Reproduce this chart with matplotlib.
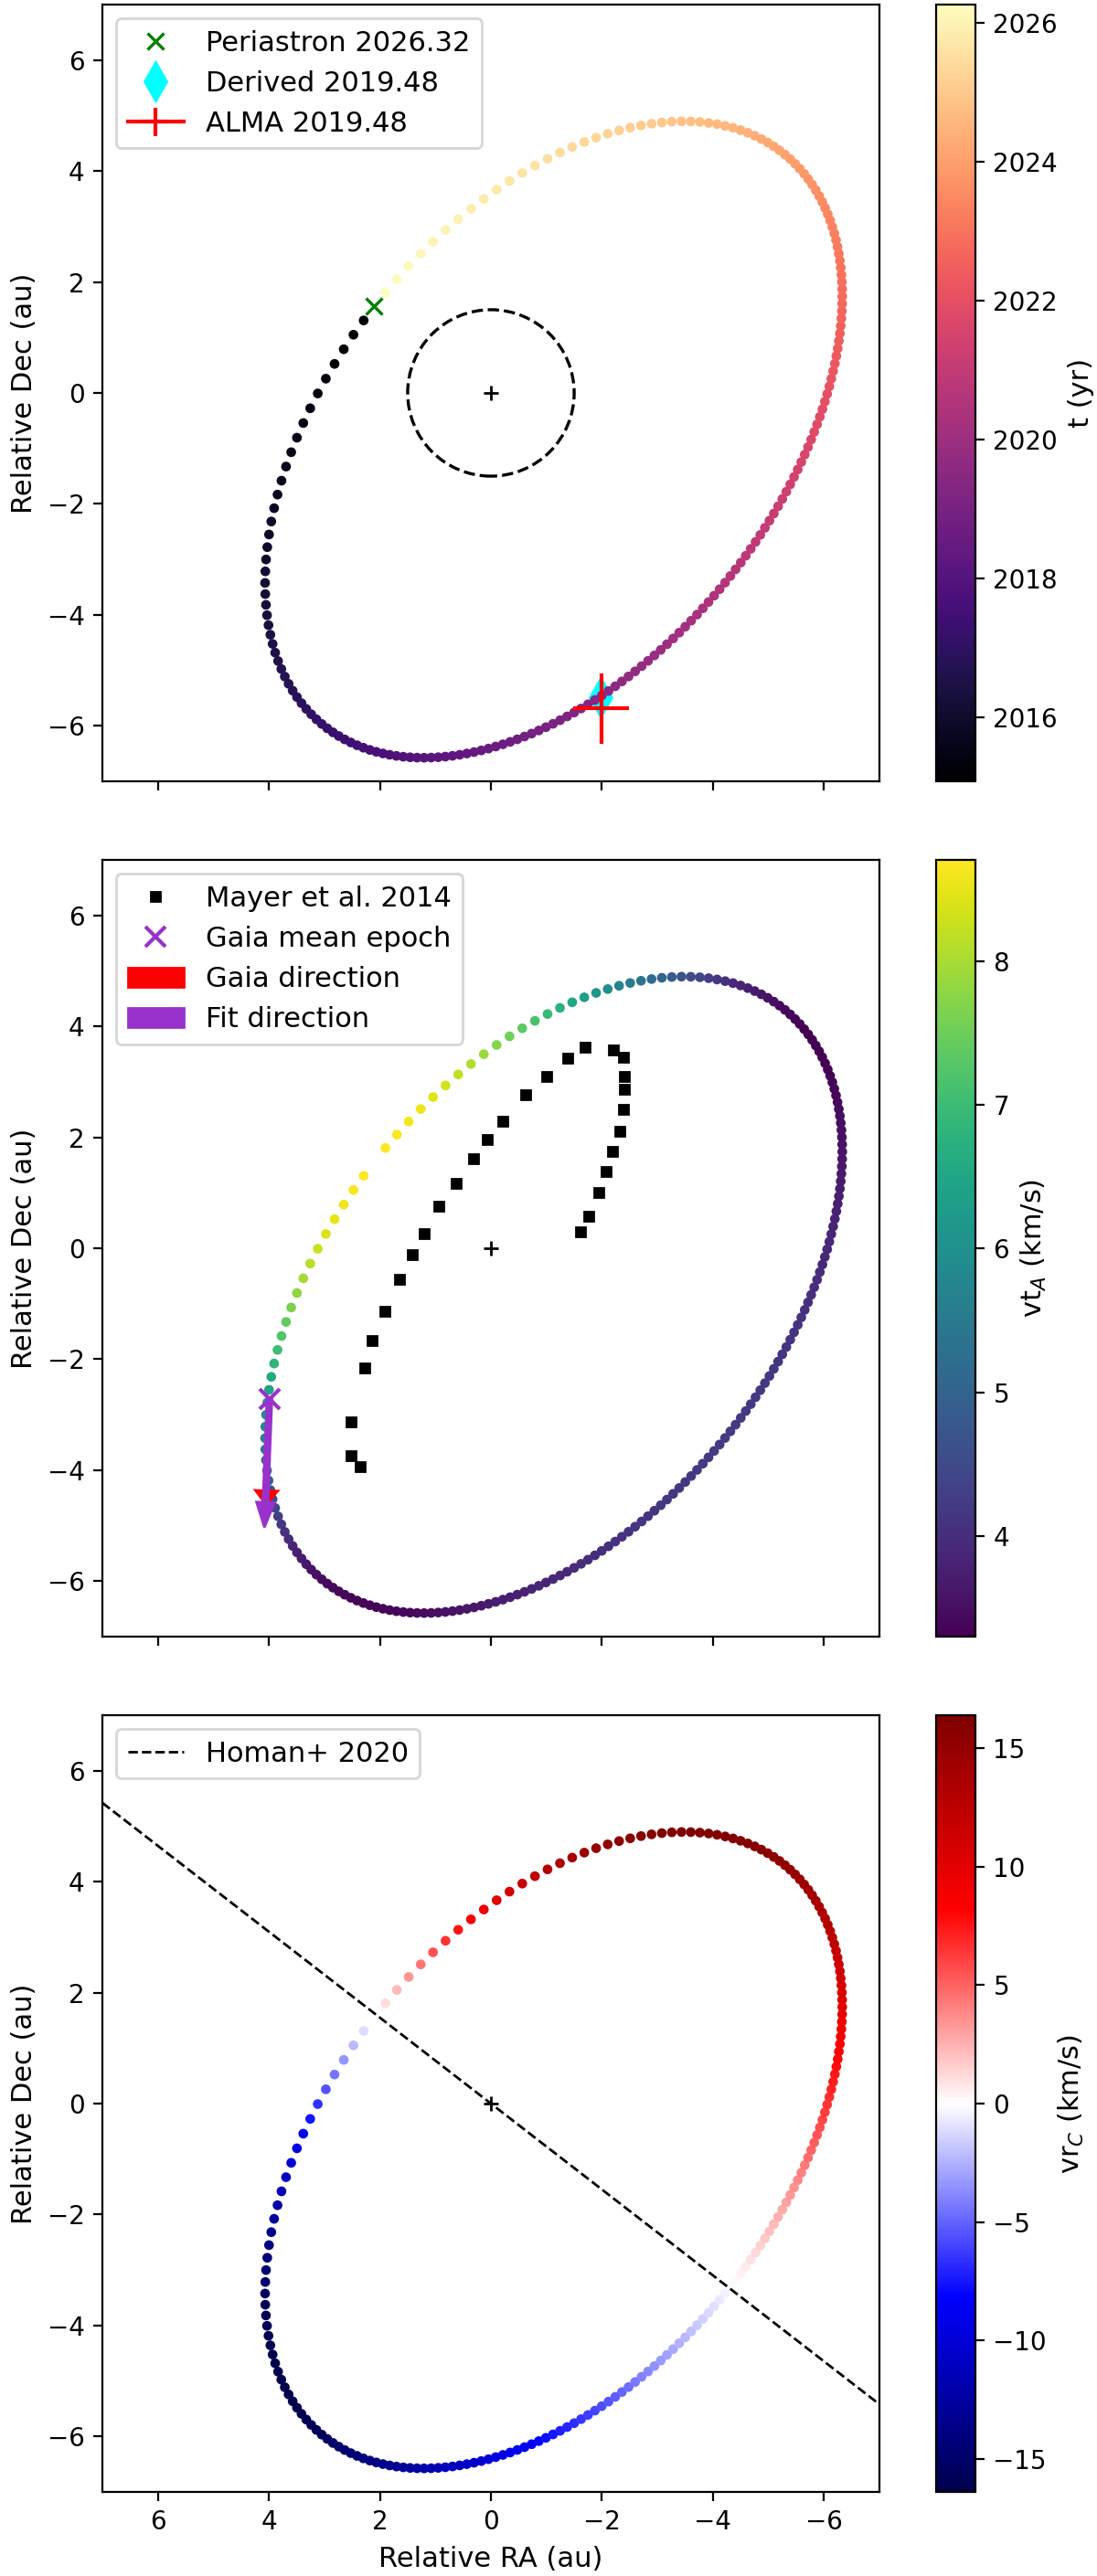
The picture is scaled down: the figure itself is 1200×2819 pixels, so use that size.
import numpy as np
import matplotlib
matplotlib.use('Agg')
import matplotlib.pyplot as plt

# orbit parameters
t_peri = 2026.32          # periastron epoch (yr)
period = 11.3             # yr
ecc = 0.35
n_points = 200
peri_ra, peri_dec = 3.231, 2.40      # projected semi-axis toward periastron (au)
quad_ra, quad_dec = 4.074, -5.209    # projected conjugate semi-axis (au)
vt_peak = 8.71    # km/s, tangential speed of A at periastron
vr_peak = 16.4    # km/s, max radial velocity of C

# markers / observations
derived_ra, derived_dec = -1.98, -5.49
alma_ra, alma_dec = -1.99, -5.69
alma_ra_err, alma_dec_err = 0.50, 0.63

mayer_ra = [2.35, 2.52, 2.52, 2.27, 2.14, 1.91, 1.64, 1.41, 1.20, 0.94, 0.63, 0.32,
            0.06, -0.21, -0.63, -1.01, -1.39, -1.70, -2.20, -2.38, -2.41, -2.41,
            -2.38, -2.33, -2.19, -2.07, -1.94, -1.77, -1.62]
mayer_dec = [-3.93, -3.74, -3.13, -2.15, -1.67, -1.13, -0.56, -0.11, 0.26, 0.75, 1.17, 1.62,
             1.96, 2.29, 2.76, 3.10, 3.42, 3.62, 3.57, 3.45, 3.10, 2.86,
             2.50, 2.11, 1.74, 1.38, 1.00, 0.57, 0.29]

gaia_ra, gaia_dec = 3.99, -2.71
gaia_dra, gaia_ddec = 0.06, -1.91
fit_dra, fit_ddec = 0.09, -2.32

homan_ra = [7.0, -7.0]
homan_dec = [5.42, -5.42]

# Kepler orbit
dt = period / (n_points + 1)
t = t_peri - period + dt * np.arange(1, n_points + 1)
M = 2 * np.pi * (t - t_peri) / period
E = M.copy()
for i in range(60):
    E = E - (E - ecc * np.sin(E) - M) / (1 - ecc * np.cos(E))
ra = peri_ra * (np.cos(E) - ecc) + quad_ra * np.sin(E)
dec = peri_dec * (np.cos(E) - ecc) + quad_dec * np.sin(E)
dra = (-peri_ra * np.sin(E) + quad_ra * np.cos(E)) / (1 - ecc * np.cos(E))
ddec = (-peri_dec * np.sin(E) + quad_dec * np.cos(E)) / (1 - ecc * np.cos(E))
speed = np.hypot(dra, ddec)
speed0 = np.hypot(quad_ra, quad_dec) / (1 - ecc)
vt = vt_peak * speed / speed0
vr = -vr_peak * np.sqrt(1 - ecc**2) * np.sin(E) / (1 - ecc * np.cos(E))
vr_lim = np.abs(vr).max()

pr_ra = peri_ra * (1 - ecc)
pr_dec = peri_dec * (1 - ecc)

plt.rcParams['axes.labelsize'] = 11
plt.rcParams['legend.fontsize'] = 11

fig = plt.figure(figsize=(6, 14.095), dpi=200)
W, H = 1200.0, 2819.0
left = 112 / W
size_w = 850 / W
size_h = 850 / H
bottoms = [1 - 855 / H, 1 - 1791 / H, 1 - 2727 / H]
cb_left = 1024 / W
cb_w = 43 / W

axs = []
caxs = []
for b in bottoms:
    ax = fig.add_axes([left, b, size_w, size_h])
    cax = fig.add_axes([cb_left, b, cb_w, size_h])
    axs.append(ax)
    caxs.append(cax)

for ax in axs:
    ax.set_xlim(7, -7)
    ax.set_ylim(-7, 7)
    ax.set_aspect('equal')
    ax.set_ylabel('Relative Dec (au)')
    ax.plot(0, 0, 'k+')

# panel 1 - time
ax = axs[0]
sc = ax.scatter(ra, dec, c=t, cmap='magma', s=8)
ax.add_patch(plt.Circle((0, 0), 1.5, fill=False, ls='--', lw=1.2, color='k'))
ax.plot(pr_ra, pr_dec, 'x', color='green', ms=6.5, mew=1.2, label='Periastron %.2f' % t_peri)
ax.plot(derived_ra, derived_dec, 'd', color='cyan', ms=10.5, zorder=0.9, label='Derived 2019.48')
ax.errorbar(alma_ra, alma_dec, xerr=alma_ra_err, yerr=alma_dec_err, color='red',
            label='ALMA 2019.48')
ax.legend(loc='upper left')
cb = fig.colorbar(sc, cax=caxs[0])
cb.set_label('t (yr)')
ax.tick_params(labelbottom=False)

# panel 2 - tangential velocity
ax = axs[1]
sc = ax.scatter(ra, dec, c=vt, cmap='viridis', s=8)
ax.plot(mayer_ra, mayer_dec, 'ks', ms=3.5, label='Mayer et al. 2014')
ax.plot(gaia_ra, gaia_dec, 'x', color='darkorchid', ms=8, mew=1.5, label='Gaia mean epoch')
ax.arrow(gaia_ra, gaia_dec, gaia_dra, gaia_ddec, width=0.05, head_width=0.4,
         head_length=0.25, length_includes_head=True, color='red', label='Gaia direction')
ax.arrow(gaia_ra, gaia_dec, fit_dra, fit_ddec, width=0.09, head_width=0.32,
         head_length=0.45, length_includes_head=True, color='darkorchid', label='Fit direction')
ax.legend(loc='upper left')
cb = fig.colorbar(sc, cax=caxs[1])
cb.set_label(r'vt$_A$ (km/s)')
ax.tick_params(labelbottom=False)

# panel 3 - radial velocity
ax = axs[2]
sc = ax.scatter(ra, dec, c=vr, cmap='seismic', s=8, vmin=-vr_lim, vmax=vr_lim)
ax.plot(homan_ra, homan_dec, 'k--', lw=1, label='Homan+ 2020')
ax.legend(loc='upper left')
cb = fig.colorbar(sc, cax=caxs[2])
cb.set_label(r'vr$_C$ (km/s)')
ax.set_xlabel('Relative RA (au)')

fig.savefig('out.png', dpi=200)
